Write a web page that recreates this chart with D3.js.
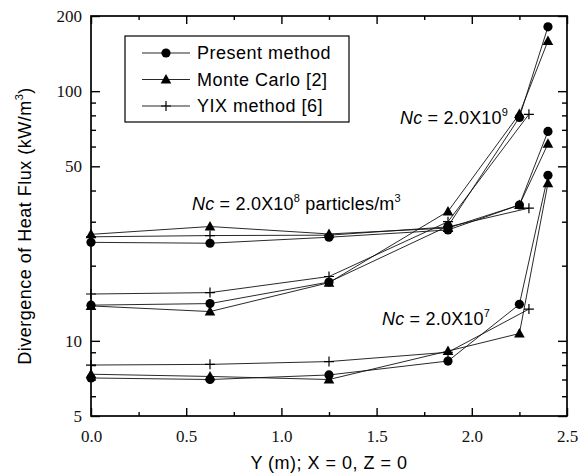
<!DOCTYPE html>
<meta charset="utf-8">
<style>
body { margin: 0; background: #fff; }
svg { display: block; }
.tick text { font-family: "Liberation Serif", "Times New Roman", serif; font-size: 17px; fill: #111; }
.tick line { stroke: #000; stroke-width: 1.4; }
.lbl { font-family: "Liberation Sans", Arial, sans-serif; font-size: 18px; fill: #000; letter-spacing: 0.5px; }
.nc { letter-spacing: 0.2px; }
</style>
<body>
<script src="https://cdnjs.cloudflare.com/ajax/libs/d3/7.8.5/d3.min.js"></script>
<script>

var w = 585, h = 474;

// positions along Y (m)
var xPos = [0, 0.625, 1.25, 1.875, 2.25, 2.4];
var xYix = [0, 0.625, 1.25, 1.875, 2.3];

// divergence of heat flux (kW/m3)
var present7 = [7.1, 7.0, 7.3, 8.3, 14.0, 46];
var present8 = [24.8, 24.6, 26.0, 27.8, 35, 69];
var present9 = [13.9, 14.1, 17.2, 28.8, 78.5, 181];
var monte7 = [7.35, 7.2, 7.0, 9.1, 10.7, 42.8];
var monte8 = [26.7, 28.7, 26.8, 28.3, 35, 61.5];
var monte9 = [13.8, 13.1, 17.1, 33, 81, 159];
var yix7 = [8.0, 8.05, 8.26, 9.0, 13.4];
var yix8 = [26.1, 26.4, 26.5, 28.6, 34];
var yix9 = [15.4, 15.6, 18.1, 30, 80.8];

var xMajor = [0, 0.5, 1, 1.5, 2, 2.5];
var xMinor = [0.25, 0.75, 1.25, 1.75, 2.25];
var yMajor = [5, 10, 50, 100, 200];
var yMinor = [6, 7, 8, 9, 20, 30, 40, 60, 70, 80, 90];

var legendNames = ["Present method", "Monte Carlo [2]", "YIX method [6]"];
var legendShapes = ["circle", "triangle", "plus"];

var svg = d3.select("body").append("svg")
	.attr("width", w)
	.attr("height", h);

var x = d3.scaleLinear().domain([0, 2.5]).range([91, 567]);
var y = d3.scaleLog().domain([5, 200]).range([416, 16]);

// axes, ticks pointing inward
svg.append("g").attr("transform", "translate(0,416)")
	.call(d3.axisBottom(x).tickValues(xMajor).tickSize(-8).tickSizeOuter(0).tickPadding(14).tickFormat(d3.format(".1f")));
svg.append("g").attr("transform", "translate(0,416)")
	.call(d3.axisBottom(x).tickValues(xMinor).tickSize(-4).tickSizeOuter(0).tickFormat(""));
svg.append("g").attr("transform", "translate(0,16)")
	.call(d3.axisTop(x).tickValues(xMajor).tickSize(-8).tickSizeOuter(0).tickFormat(""));
svg.append("g").attr("transform", "translate(0,16)")
	.call(d3.axisTop(x).tickValues(xMinor).tickSize(-4).tickSizeOuter(0).tickFormat(""));
svg.append("g").attr("transform", "translate(91,0)")
	.call(d3.axisLeft(y).tickValues(yMajor).tickSize(-9).tickSizeOuter(0).tickPadding(9).tickFormat(d3.format("d")));
svg.append("g").attr("transform", "translate(91,0)")
	.call(d3.axisLeft(y).tickValues(yMinor).tickSize(-5).tickSizeOuter(0).tickFormat(""));
svg.append("g").attr("transform", "translate(567,0)")
	.call(d3.axisRight(y).tickValues(yMajor).tickSize(-9).tickSizeOuter(0).tickFormat(""));
svg.append("g").attr("transform", "translate(567,0)")
	.call(d3.axisRight(y).tickValues(yMinor).tickSize(-5).tickSizeOuter(0).tickFormat(""));
svg.selectAll(".domain").remove();

svg.append("rect")
	.attr("x", 91).attr("y", 16)
	.attr("width", 476).attr("height", 400)
	.attr("fill", "none")
	.attr("stroke", "#000")
	.attr("stroke-width", 1.7);

// series
var series = [
	{xs: xPos, ys: present7, shape: "circle"},
	{xs: xPos, ys: present8, shape: "circle"},
	{xs: xPos, ys: present9, shape: "circle"},
	{xs: xPos, ys: monte7, shape: "triangle"},
	{xs: xPos, ys: monte8, shape: "triangle"},
	{xs: xPos, ys: monte9, shape: "triangle"},
	{xs: xYix, ys: yix7, shape: "plus"},
	{xs: xYix, ys: yix8, shape: "plus"},
	{xs: xYix, ys: yix9, shape: "plus"}
];

var line = d3.line()
	.x(function(d) { return x(d[0]); })
	.y(function(d) { return y(d[1]); });

series.forEach(function(s) {
	var pts = s.xs.map(function(v, i) { return [v, s.ys[i]]; });
	svg.append("path")
		.attr("d", line(pts))
		.attr("fill", "none")
		.attr("stroke", "#111")
		.attr("stroke-width", 0.9);
});

function drawMarker(g, shape, cx, cy) {
	if (shape == "circle") {
		g.append("circle").attr("cx", cx).attr("cy", cy).attr("r", 4.6).attr("fill", "#000");
	} else if (shape == "triangle") {
		g.append("path")
			.attr("d", "M" + cx + "," + (cy - 5.5) + "L" + (cx + 5.3) + "," + (cy + 4) + "L" + (cx - 5.3) + "," + (cy + 4) + "Z")
			.attr("fill", "#000");
	} else {
		g.append("path")
			.attr("d", "M" + (cx - 5) + "," + cy + "H" + (cx + 5) + "M" + cx + "," + (cy - 5) + "V" + (cy + 5))
			.attr("stroke", "#000")
			.attr("stroke-width", 1.2);
	}
}

var marks = svg.append("g");
series.forEach(function(s) {
	s.xs.forEach(function(v, i) {
		drawMarker(marks, s.shape, x(v), y(s.ys[i]));
	});
});

// legend
var leg = svg.append("g");
leg.append("rect")
	.attr("x", 125).attr("y", 36)
	.attr("width", 224).attr("height", 86)
	.attr("fill", "#fff")
	.attr("stroke", "#000")
	.attr("stroke-width", 1.2);
legendNames.forEach(function(name, i) {
	var ly = 53 + i * 26.5;
	leg.append("line")
		.attr("x1", 142).attr("x2", 190)
		.attr("y1", ly).attr("y2", ly)
		.attr("stroke", "#111").attr("stroke-width", 0.9);
	drawMarker(leg, legendShapes[i], 166, ly);
	leg.append("text").attr("class", "lbl")
		.attr("x", 197).attr("y", ly).attr("dy", "0.36em")
		.text(name);
});

// annotations
function ncLabel(px, py, expo, tail) {
	var t = svg.append("text").attr("class", "lbl nc").attr("x", px).attr("y", py);
	t.append("tspan").attr("font-style", "italic").text("Nc");
	t.append("tspan").text(" = 2.0X10");
	t.append("tspan").attr("font-size", "11px").attr("dy", "-8").text(expo);
	if (tail) {
		t.append("tspan").attr("dy", "8").text(" particles/m");
		t.append("tspan").attr("font-size", "11px").attr("dy", "-8").text("3");
	}
}
ncLabel(192, 210, "8", true);
ncLabel(400, 124, "9", false);
ncLabel(382, 325, "7", false);

// axis titles
svg.append("text").attr("class", "lbl")
	.attr("x", 329).attr("y", 469)
	.attr("text-anchor", "middle")
	.text("Y (m); X = 0, Z = 0");

var yt = svg.append("text").attr("class", "lbl")
	.attr("transform", "translate(31,226) rotate(-90)")
	.attr("text-anchor", "middle");
yt.append("tspan").text("Divergence of Heat Flux (kW/m");
yt.append("tspan").attr("font-size", "11px").attr("dy", "-8").text("3");
yt.append("tspan").attr("dy", "8").text(")");

</script>
</body>
